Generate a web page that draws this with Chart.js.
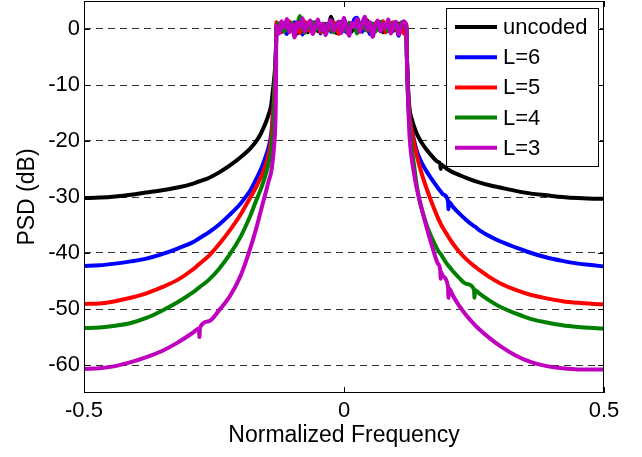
<!DOCTYPE html>
<html>
<head>
<meta charset="utf-8">
<title>PSD</title>
<script src="https://cdn.jsdelivr.net/npm/chart.js@4.4.1/dist/chart.umd.min.js"></script>
<style>
  html, body { margin: 0; padding: 0; background: #fff; }
  #wrap { width: 642px; height: 457px; }
</style>
</head>
<body>
<div id="wrap"><canvas id="psdChart" width="642" height="457"></canvas></div>
<script>
// Frequency grid (left skirt, passband, right skirt)
const freqLeft = [-0.5, -0.47, -0.44, -0.41, -0.38, -0.35, -0.32, -0.29, -0.279, -0.278, -0.277,
    -0.26, -0.24, -0.22, -0.2, -0.19, -0.18, -0.17, -0.16, -0.155, -0.15, -0.145, -0.14, -0.137,
    -0.135, -0.133, -0.131];
const freqPass = [-0.13, -0.125, -0.12, -0.115, -0.11, -0.105, -0.1, -0.095, -0.09, -0.085,
    -0.08, -0.075, -0.07, -0.065, -0.06, -0.055, -0.05, -0.045, -0.04, -0.035,
    -0.03, -0.025, -0.02, -0.015, -0.01, -0.005, 0, 0.005, 0.01, 0.015,
    0.02, 0.025, 0.03, 0.035, 0.04, 0.045, 0.05, 0.055, 0.06, 0.065,
    0.07, 0.075, 0.08, 0.085, 0.09, 0.095, 0.1, 0.105, 0.11, 0.115,
    0.12];
const freqRight = [0.121, 0.123, 0.126, 0.13, 0.135, 0.14, 0.145, 0.15, 0.16, 0.17, 0.18,
    0.185, 0.186, 0.187, 0.19, 0.2, 0.201, 0.202, 0.21, 0.22, 0.235, 0.25, 0.251, 0.252,
    0.26, 0.28, 0.3, 0.33, 0.36, 0.39, 0.42, 0.45, 0.48, 0.5];

// PSD values in dB, same order as the grid above
const uncodedDb = [
    -30.2, -30.1, -29.9, -29.6, -29.2, -28.8, -28.3, -27.6, -27.23, -27.2, -27.17,
    -26.6, -25.6, -24.4, -23.0, -22.2, -21.3, -20.2, -18.7, -17.7, -16.6, -15.3, -13.6, -11.2,
    -9.5, -7.5, -4.0,
    0.2, 0.8, -0.5, 0.6, 1.1, -0.3, 0.4, 0.9, -0.8, 0.3,
    1.0, 0.1, -0.6, 0.7, 0.2, 1.2, -0.4, 0.5, 0.0, 0.9,
    -0.2, 2.2, 0.6, -0.7, 0.4, 1.0, -0.3, 0.8, 0.2, -0.5,
    1.4, 0.3, 0.9, -0.4, 0.6, 1.5, 0.1, -0.2, 0.7, 0.4,
    1.1, -0.6, 0.5, 0.2, 0.9, -0.3, 0.6, 1.0, 0.0, 0.5,
    0.3,
    -5, -10, -14.2, -16.0, -17.5, -18.7, -19.6, -20.4, -21.7, -22.8, -23.7,
    -24.1, -25.0, -24.2, -24.4, -25.1, -25.15, -25.2, -25.6, -26.0, -26.6, -27.1, -27.12, -27.15,
    -27.4, -27.9, -28.3, -28.9, -29.4, -29.7, -30.0, -30.2, -30.3, -30.3];
const l6Db = [
    -42.3, -42.2, -41.9, -41.5, -41.0, -40.2, -39.2, -38.05, -37.41, -37.35, -37.29,
    -36.3, -34.9, -33.2, -31.3, -30.1, -28.8, -27.0, -25.1, -23.9, -22.6, -21.1, -18.8, -15.5,
    -12.0, -8.5, -4.0,
    0.5, -0.4, 1.0, 0.2, -0.9, 0.7, 0.3, 1.2, -0.2, 0.6,
    -1.0, 0.8, 0.4, -0.3, 1.1, 0.0, 0.6, -0.8, 0.9, 0.3,
    1.0, -0.5, 0.2, 0.8, -0.2, 1.3, 0.5, -0.6, 0.7, 0.4,
    1.8, 2.0, 0.6, -0.5, 1.2, 0.3, -0.9, 0.8, 0.1, 1.0,
    -0.4, 0.7, 0.3, 1.1, -0.7, 0.5, 0.9, -1.2, 0.4, 0.8,
    -0.6,
    -5, -11, -15.5, -17.8, -20.0, -21.8, -23.0, -24.0, -25.6, -27.0, -28.3,
    -28.9, -29.0, -29.1, -29.5, -30.7, -32.2, -30.9, -31.8, -32.8, -34.1, -35.2, -35.25, -35.3,
    -35.9, -37.0, -37.9, -39.0, -40.0, -40.8, -41.4, -41.9, -42.2, -42.4];
const l5Db = [
    -49.1, -49.0, -48.6, -48.0, -47.2, -46.1, -44.8, -42.9, -42.02, -41.94, -41.86,
    -40.5, -38.4, -36.0, -33.3, -31.7, -30.1, -28.4, -26.5, -25.4, -24.1, -22.4, -19.8, -16.2,
    -13.0, -9.0, -4.5,
    1.2, 0.4, -0.6, 0.9, 0.2, 1.4, -0.3, 0.6, 1.0, -0.7,
    0.5, 1.3, 0.0, -0.4, 0.8, 0.3, 1.1, -0.6, 0.7, 0.2,
    0.9, -0.2, 1.2, 0.4, -0.9, 0.6, 1.0, 0.1, -0.4, 0.8,
    0.3, 1.1, -0.5, 0.7, 0.2, 1.3, -0.3, 0.5, 1.0, 0.0,
    0.6, 1.4, -0.6, 0.3, 0.9, 1.2, -0.2, 0.7, 0.4, -0.8,
    0.9,
    -5, -11, -15.5, -18.0, -20.5, -22.6, -24.4, -26.0, -28.8, -31.3, -33.6,
    -34.6, -34.8, -35.0, -35.5, -37.0, -37.15, -37.3, -38.4, -39.6, -41.1, -42.3, -42.37, -42.44,
    -43.0, -44.3, -45.4, -46.6, -47.5, -48.1, -48.6, -48.9, -49.1, -49.2];
const l4Db = [
    -53.4, -53.3, -53.0, -52.5, -51.6, -50.3, -48.8, -47.0, -46.19, -46.12, -46.05,
    -44.8, -42.8, -40.3, -37.3, -35.4, -33.3, -30.9, -28.6, -27.3, -25.8, -24.0, -21.8, -19.0,
    -16.0, -11.0, -5.0,
    0.3, 1.0, 0.2, -0.5, 0.8, 0.4, 1.1, -0.3, 0.6, 2.3,
    0.5, -0.7, 0.9, 0.1, 1.2, -0.2, 0.6, 0.9, -0.5, 0.4,
    1.0, 0.2, -0.6, 0.8, 1.3, 0.0, 0.5, -0.4, 1.1, 0.3,
    0.7, -0.8, 0.9, 1.2, 0.1, -0.3, 0.6, 1.0, -0.5, 0.4,
    1.3, 0.2, 0.8, -0.4, 0.5, 1.0, 0.3, -0.6, 1.2, 0.6,
    0.2,
    -5, -12, -17, -21.0, -24.5, -28.0, -30.5, -32.3, -35.3, -37.5, -39.4,
    -40.1, -40.2, -40.3, -40.8, -42.2, -42.3, -42.4, -43.3, -44.3, -45.5, -46.5, -48.0, -46.6,
    -47.2, -48.5, -49.6, -50.8, -51.8, -52.4, -52.9, -53.2, -53.4, -53.5];
const l3Db = [
    -60.7, -60.6, -60.2, -59.5, -58.6, -57.5, -56.0, -54.2, -53.47, -55.0, -53.33,
    -52.2, -50.2, -47.8, -44.3, -41.9, -39.1, -36.0, -32.5, -30.7, -29.0, -27.2, -25.5, -23.5,
    -21.5, -19.0, -12.0,
    0.6, -0.8, 1.4, 0.2, 1.8, -0.6, 0.9, -1.5, 1.2, 0.3,
    1.9, -0.4, 0.7, 1.5, -0.9, 0.4, 1.7, -0.2, 1.0, -1.1,
    0.8, 1.6, -0.3, 0.5, 1.3, -0.7, 2.0, 0.2, -1.2, 1.1,
    0.4, 1.8, -0.5, 0.9, 2.2, -0.1, 1.2, -1.4, 0.6, 1.5,
    -0.4, 1.0, 0.2, 1.7, -0.8, 0.7, 1.3, -1.0, 0.5, 1.4,
    0.3,
    -6, -12, -19, -23.0, -26.0, -28.5, -30.5, -32.3, -35.8, -39.0, -41.8,
    -43.0, -44.6, -43.45, -44.1, -46.0, -48.0, -46.35, -47.7, -49.2, -51.1, -52.7, -52.8, -52.9,
    -53.6, -55.2, -56.6, -58.3, -59.5, -60.2, -60.6, -60.8, -60.8, -60.8];

const seriesLabels = ['uncoded', 'L=6', 'L=5', 'L=4', 'L=3'];
const seriesValues = [uncodedDb, l6Db, l5Db, l4Db, l3Db];
const seriesColors = ['#000000', '#0000ff', '#ff0000', '#008000', '#bf00bf'];

const xTicks = [-0.5, 0, 0.5];
const yTicks = [-60, -50, -40, -30, -20, -10, 0];

const freq = freqLeft.concat(freqPass, freqRight);
const FONT = '"Liberation Sans", Arial, Helvetica, sans-serif';

Chart.defaults.font.family = FONT;
Chart.defaults.color = '#000';

// box, inward ticks and the boxed legend drawn on top of the lines
const framePlugin = {
    id: 'frame',
    afterDatasetsDraw(chart) {
        const { ctx, chartArea: a, scales } = chart;
        ctx.save();
        ctx.strokeStyle = '#000';
        ctx.lineWidth = 1;
        ctx.setLineDash([]);
        ctx.strokeRect(a.left + 0.5, a.top + 0.5, a.right - a.left - 1, a.bottom - a.top - 1);

        ctx.beginPath();
        yTicks.forEach(v => {
            const y = Math.round(scales.y.getPixelForValue(v)) + 0.5;
            ctx.moveTo(a.left, y); ctx.lineTo(a.left + 6, y);
            ctx.moveTo(a.right, y); ctx.lineTo(a.right - 6, y);
        });
        xTicks.forEach(v => {
            const x = Math.round(scales.x.getPixelForValue(v)) + 0.5;
            ctx.moveTo(x, a.bottom); ctx.lineTo(x, a.bottom - 6);
            ctx.moveTo(x, a.top); ctx.lineTo(x, a.top + 6);
        });
        ctx.stroke();

        // legend
        const bx = 446, by = 8, bw = 152, bh = 158;
        ctx.fillStyle = '#fff';
        ctx.fillRect(bx, by, bw, bh);
        ctx.strokeRect(bx + 0.5, by + 0.5, bw, bh);
        ctx.font = '22px ' + FONT;
        ctx.textBaseline = 'middle';
        ctx.textAlign = 'left';
        chart.data.datasets.forEach((ds, i) => {
            const y = 27 + i * 30.2;
            ctx.strokeStyle = ds.borderColor;
            ctx.lineWidth = 4;
            ctx.beginPath();
            ctx.moveTo(455, y);
            ctx.lineTo(497, y);
            ctx.stroke();
            ctx.fillStyle = '#000';
            ctx.fillText(ds.label, 503, y + 1);
        });
        ctx.restore();
    }
};

const datasets = seriesLabels.map((label, i) => ({
    label: label,
    data: freq.map((f, k) => ({ x: f, y: seriesValues[i][k] })),
    borderColor: seriesColors[i],
    backgroundColor: seriesColors[i],
    borderWidth: 4,
    pointRadius: 0,
    fill: false,
    cubicInterpolationMode: 'monotone',
    borderJoinStyle: 'round',
    // first series drawn first, L=3 ends up on top
    order: seriesLabels.length - i
}));

new Chart(document.getElementById('psdChart'), {
    type: 'line',
    data: { datasets: datasets },
    options: {
        responsive: false,
        animation: false,
        devicePixelRatio: 1,
        layout: { padding: { left: 0, top: 1, right: 38, bottom: 0 } },
        plugins: {
            legend: { display: false },
            tooltip: { enabled: false }
        },
        scales: {
            x: {
                type: 'linear',
                min: -0.5,
                max: 0.5,
                afterBuildTicks: scale => { scale.ticks = xTicks.map(v => ({ value: v })); },
                afterFit: scale => { scale.height = 64; },
                grid: { display: false, drawTicks: false },
                border: { display: false },
                ticks: { padding: 5, font: { size: 22 }, color: '#000', maxRotation: 0 },
                title: {
                    display: true,
                    text: 'Normalized Frequency',
                    font: { size: 23 },
                    color: '#000',
                    padding: { top: 8, bottom: 8 }
                }
            },
            y: {
                min: -65,
                max: 5,
                afterBuildTicks: scale => { scale.ticks = yTicks.map(v => ({ value: v })); },
                afterFit: scale => {
                    scale.width = 84;
                    scale.paddingTop = 0;
                    scale.paddingBottom = 0;
                },
                grid: {
                    color: 'rgba(0,0,0,0.8)',
                    lineWidth: 1,
                    drawTicks: false
                },
                border: { display: false, dash: [7, 5] },
                ticks: { padding: 4, font: { size: 22 }, color: '#000' },
                title: {
                    display: true,
                    text: 'PSD (dB)',
                    font: { size: 23 },
                    color: '#000',
                    padding: { top: 14, bottom: 14 }
                }
            }
        }
    },
    plugins: [framePlugin]
});
</script>
</body>
</html>
